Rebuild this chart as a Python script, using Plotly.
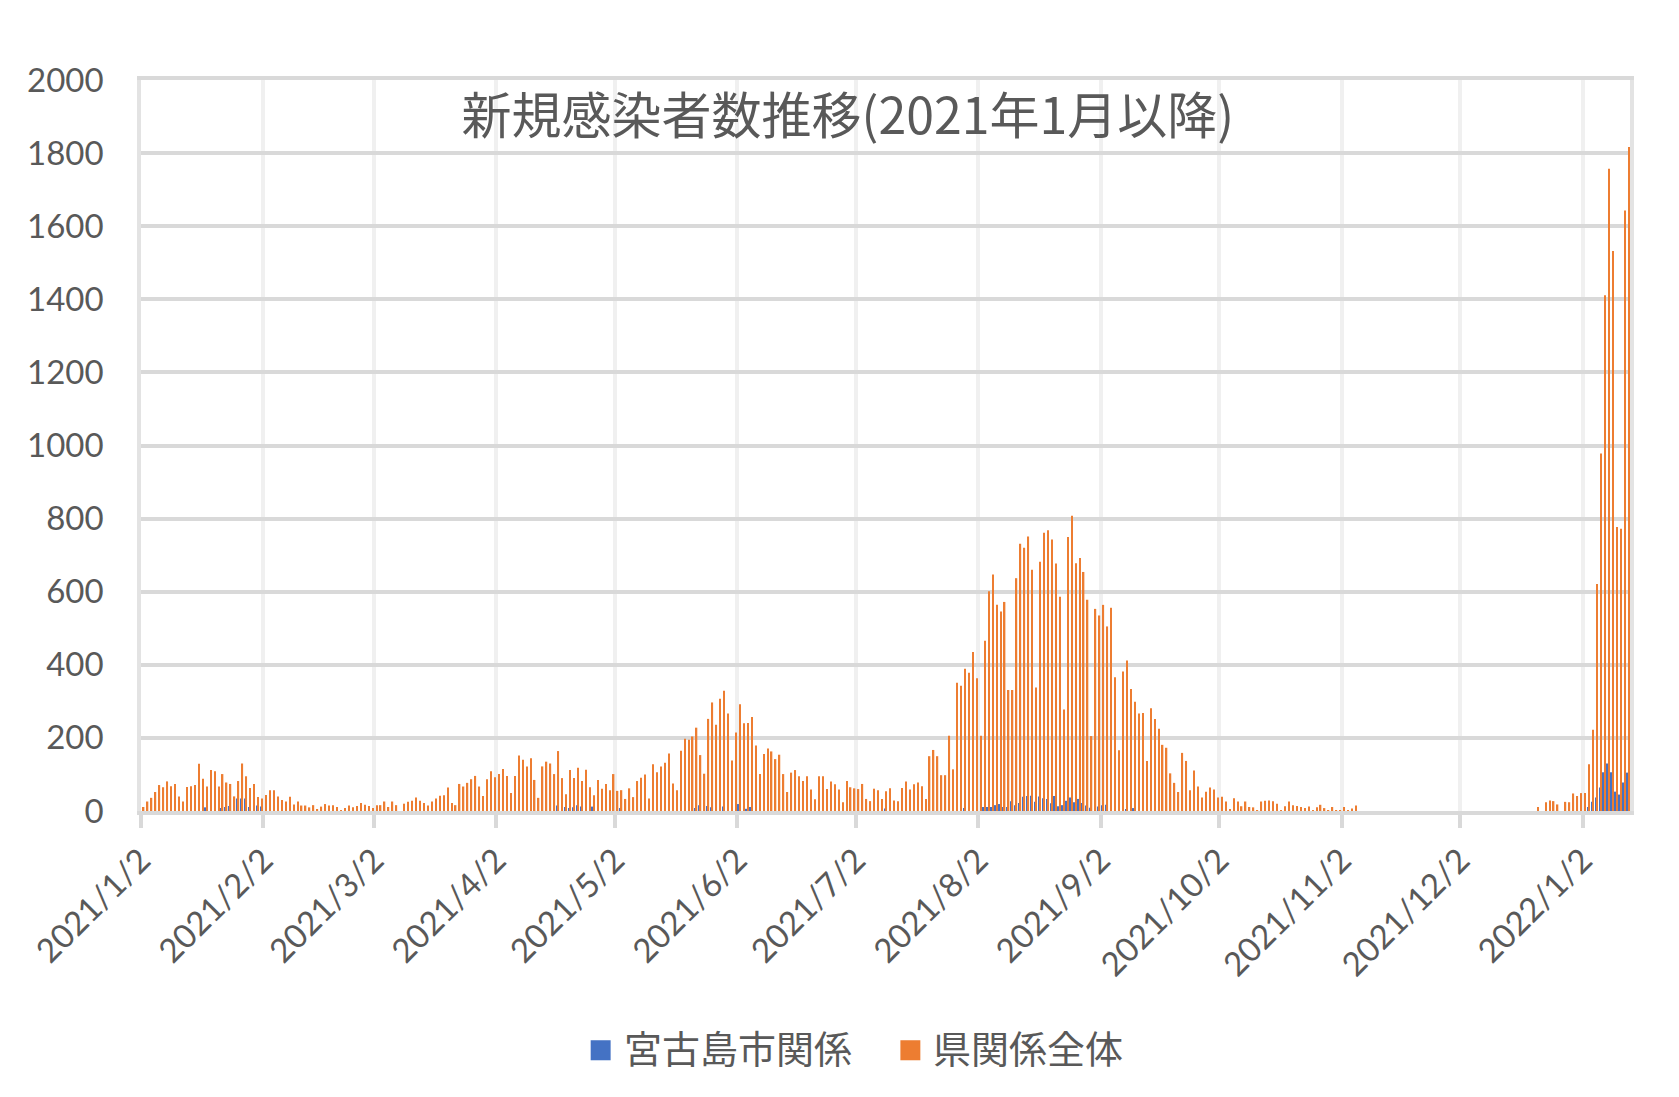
import pandas as pd
import plotly.graph_objects as go

# 県関係全体: daily counts, 2021/1/2 .. 2022/1/13, one list per tick interval
pref_jan21 = [11, 26, 36, 52, 71, 65, 81, 68, 74, 40, 26, 66, 68, 71, 129, 88,
              67, 112, 109, 67, 101, 78, 74, 40, 82, 130, 95, 63, 74, 38, 34]
pref_feb21 = [44, 57, 57, 40, 30, 26, 39, 18, 26, 15, 15, 10, 16, 3, 12, 19,
              15, 16, 11, 1, 8, 15, 10, 14, 22, 17, 14, 8]
pref_mar21 = [16, 16, 26, 11, 26, 16, 0, 20, 25, 28, 37, 28, 22, 15, 26, 34,
              42, 43, 64, 22, 16, 74, 67, 77, 87, 96, 67, 41, 87, 109, 92]
pref_apr21 = [101, 115, 96, 49, 96, 152, 140, 122, 144, 85, 36, 122, 135, 130,
              101, 164, 90, 46, 112, 90, 118, 82, 113, 65, 43, 85, 61, 74, 57, 101]
pref_may21 = [55, 57, 33, 62, 38, 82, 91, 100, 34, 128, 106, 122, 132, 157, 75,
              57, 165, 198, 195, 204, 228, 153, 102, 252, 297, 236, 307, 329,
              267, 138, 215]
pref_jun21 = [292, 240, 241, 257, 179, 101, 156, 171, 163, 142, 154, 101, 52,
              105, 112, 95, 82, 95, 59, 32, 95, 95, 60, 81, 73, 59, 24, 82, 65, 62]
pref_jul21 = [60, 74, 33, 27, 61, 57, 33, 54, 62, 29, 27, 63, 81, 59, 73, 78, 68,
              33, 150, 167, 150, 98, 98, 206, 114, 351, 343, 389, 378, 435, 363]
pref_aug21 = [206, 466, 601, 647, 564, 546, 572, 331, 331, 637, 731, 720, 751,
              660, 338, 682, 761, 768, 743, 677, 586, 278, 750, 808, 678, 692,
              654, 578, 205, 553, 535]
pref_sep21 = [564, 505, 556, 366, 166, 382, 412, 334, 299, 267, 268, 137, 281,
              252, 225, 181, 173, 103, 77, 52, 159, 137, 57, 111, 67, 37, 53, 64,
              59, 37]
pref_oct21 = [39, 26, 5, 35, 26, 13, 26, 11, 10, 2, 26, 28, 29, 27, 20, 2, 13, 26,
              16, 14, 11, 8, 12, 2, 10, 17, 8, 2, 11, 2, 1]
pref_nov21 = [11, 2, 7, 15, 0, 0, 0, 0, 0, 0, 0, 0, 0, 0, 0, 0, 0, 0, 0, 0, 0, 0,
              0, 0, 0, 0, 0, 0, 0, 0]
pref_dec21 = [0, 0, 0, 0, 0, 0, 0, 0, 0, 0, 0, 0, 0, 0, 0, 0, 0, 0, 0, 11, 0, 24,
              29, 27, 18, 0, 25, 24, 48, 41, 49]
pref_jan22 = [49, 128, 222, 621, 978, 1411, 1757, 1532, 777, 772, 1643, 1817]

# 宮古島市関係: runs of daily counts (start date, values)
miyako_runs = [
    ("2021-01-18", [10, 0, 0, 0, 8, 11, 14, 0, 34, 34, 34, 11, 0, 15, 12]),
    ("2021-04-17", [15, 0, 11, 8, 10, 16, 12, 0, 0, 12, 0, 0, 0, 0, 0, 0, 8]),
    ("2021-05-22", [8, 16, 0, 14, 10, 0, 0, 12, 0, 0, 0, 19, 0, 6, 11]),
    ("2021-07-09", [7]),
    ("2021-07-29", [8, 0, 0, 0, 0]),
    ("2021-08-03", [11, 11, 11, 16, 19, 11, 11, 27, 16, 22, 39, 41, 42, 25, 40,
                    35, 33, 21, 41, 13, 16, 28, 37, 24, 33, 22, 15, 9, 0, 12, 16,
                    17, 0, 0, 0, 0, 5, 0, 8]),
    ("2022-01-03", [11, 25, 37, 64, 106, 130, 106, 53, 45, 78, 105]),
]

series_names = ["宮古島市関係", "県関係全体"]
series_colors = ["#4472C4", "#ED7D31"]

prefecture = (pref_jan21 + pref_feb21 + pref_mar21 + pref_apr21 + pref_may21 +
              pref_jun21 + pref_jul21 + pref_aug21 + pref_sep21 + pref_oct21 +
              pref_nov21 + pref_dec21 + pref_jan22)
days = pd.date_range("2021-01-02", periods=len(prefecture), freq="D")

miyako = pd.Series(0, index=days)
for first, vals in miyako_runs:
    miyako.loc[pd.date_range(first, periods=len(vals), freq="D")] = vals

# Excel-style slots: bar in the middle of the day, gridline at its start
centers = days + pd.Timedelta(hours=12)
tick_days = pd.date_range("2021-01-01", "2022-01-01", freq="MS") + pd.Timedelta(days=1)
tick_text = [f"{d.year}/{d.month}/{d.day}" for d in tick_days]

GREY = "#595959"
LATIN = "Lato, 'Noto Sans CJK JP', sans-serif"
CJK = "'Noto Sans CJK JP', Lato, sans-serif"

fig = go.Figure()
for name, color, vals in zip(series_names, series_colors, [miyako.values, prefecture]):
    fig.add_trace(go.Bar(x=centers, y=vals, name=name, showlegend=False,
                         marker=dict(color=color, line=dict(width=0))))

# legend drawn by hand so the swatches can be Excel-sized
legend_x = [0.3020, 0.5100]   # paper x of each swatch
shapes, notes = [], []
for lx, name, color in zip(legend_x, series_names, series_colors):
    shapes.append(dict(type="rect", xref="paper", yref="paper",
                       x0=lx, x1=lx + 0.0134, y0=-0.341, y1=-0.3136,
                       fillcolor=color, line=dict(width=0)))
    notes.append(dict(text=name, xref="paper", yref="paper", x=lx + 0.0208,
                      y=-0.322, xanchor="left", yanchor="middle", showarrow=False,
                      font=dict(family=CJK, size=38, color=GREY)))

fig.update_layout(
    width=1679, height=1097,
    margin=dict(l=141, r=49, t=80, b=286),
    paper_bgcolor="white", plot_bgcolor="white",
    barmode="group", bargap=0.3, bargroupgap=0,
    font=dict(family=LATIN, color=GREY, size=33),
    title=dict(text="新規感染者数推移(2021年1月以降)", x=0.505, y=1 - 116 / 1097,
               xanchor="center", yanchor="middle",
               font=dict(family=CJK, size=50, color=GREY)),
    shapes=shapes, annotations=notes, showlegend=False,
)
fig.update_xaxes(
    type="date", range=[days[0], days[-1] + pd.Timedelta(days=1)],
    tickmode="array", tickvals=tick_days, ticktext=tick_text, tickangle=-45,
    tickfont=dict(size=33, color=GREY),
    ticks="outside", ticklen=13, tickwidth=3.5, tickcolor="#d9d9d9",
    showgrid=True, gridcolor="#f0f0f0", gridwidth=3.5,
    showline=True, linecolor="#d9d9d9", linewidth=3.5, mirror=True,
)
fig.update_yaxes(
    range=[0, 2000], dtick=200, tickfont=dict(size=33, color=GREY),
    ticks="outside", ticklen=27, tickcolor="rgba(0,0,0,0)",
    showgrid=True, gridcolor="#d9d9d9", gridwidth=3.5, zeroline=False,
    showline=True, linecolor="#e3e3e3", linewidth=3.5, mirror=True,
)

fig.write_html("out.html", config={"displayModeBar": False},
               post_script="document.body.style.margin='0';")
